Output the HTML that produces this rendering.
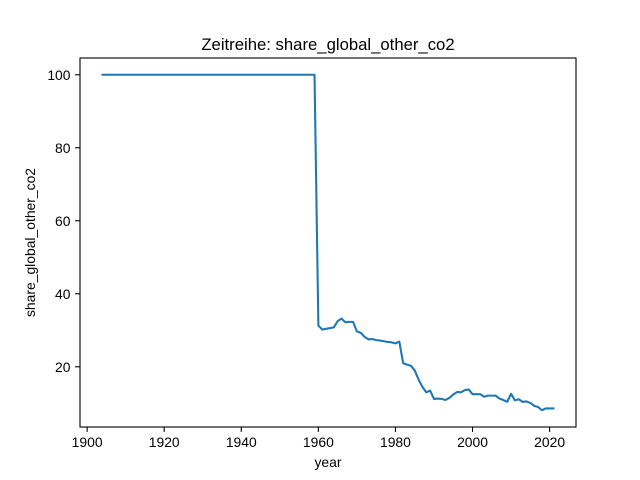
<!DOCTYPE html>
<html><head><meta charset="utf-8"><style>body{margin:0;background:#fff}svg{display:block;font-family:"Liberation Sans","DejaVu Sans",sans-serif}</style></head>
<body>
<svg id="chart" width="640" height="480" xmlns="http://www.w3.org/2000/svg">
<rect width="640" height="480" fill="#fff"/>
<text x="328" y="50" text-anchor="middle" font-size="16.7">Zeitreihe: share_global_other_co2</text>
<text x="328" y="467" text-anchor="middle" font-size="13.9">year</text>
<text transform="translate(35,242.5) rotate(-90)" text-anchor="middle" font-size="13.9">share_global_other_co2</text>
<g id="ticks"></g>
<path id="line" fill="none" stroke="#1f77b4" stroke-width="2.08" stroke-linejoin="round" stroke-linecap="square"/>
<rect x="80" y="58" width="496" height="369" fill="none" stroke="#000" stroke-width="1.1"/>
</svg>
<script>
const years=[];for(let y=1904;y<=2021;y++)years.push(y);
const valuesEarly=new Array(1959-1904+1).fill(100);
const valuesLate=[31.3,30.2,30.4,30.6,30.8,32.5,33.2,32.2,32.3,32.3,29.7,29.3,28.2,27.5,27.6,27.3,27.2,27.0,26.8,26.7,26.4,26.9,21.0,20.6,20.3,19.0,16.5,14.5,13.0,13.5,11.2,11.3,11.2,10.9,11.5,12.4,13.1,13.0,13.6,13.8,12.5,12.5,12.5,11.8,12.1,12.1,12.1,11.3,10.9,10.4,12.6,10.8,11.1,10.4,10.5,10.1,9.3,9.0,8.1,8.6,8.6,8.6];
const values=valuesEarly.concat(valuesLate);
const xTicks=[1900,1920,1940,1960,1980,2000,2020];
const yTicks=[20,40,60,80,100];
const L=80,R=576,T=58,B=427;
const xmin=Math.min(...years),xmax=Math.max(...years),xm=(xmax-xmin)*0.05;
const ymin=Math.min(...values),ymax=Math.max(...values),ym=(ymax-ymin)*0.05;
const x=v=>L+(v-(xmin-xm))/((xmax+xm)-(xmin-xm))*(R-L);
const y=v=>B-(v-(ymin-ym))/((ymax+ym)-(ymin-ym))*(B-T);
const ns="http://www.w3.org/2000/svg";
const g=document.getElementById('ticks');
function mk(t,a){const e=document.createElementNS(ns,t);for(const k in a)e.setAttribute(k,a[k]);return e;}
xTicks.forEach(t=>{const px=x(t);
const l=mk('line',{x1:px,x2:px,y1:B,y2:B+4.9,stroke:'#000','stroke-width':1.1});


g.appendChild(l);
const s=mk('text',{x:px,y:B+20,'text-anchor':'middle','font-size':13.9});s.textContent=t;


g.appendChild(s);});
yTicks.forEach(t=>{const py=y(t);
const l=mk('line',{x1:L-4.9,x2:L,y1:py,y2:py,stroke:'#000','stroke-width':1.1});


g.appendChild(l);
const s=mk('text',{x:L-9.5,y:py+5,'text-anchor':'end','font-size':13.9});s.textContent=t;


g.appendChild(s);});
document.getElementById('line').setAttribute('d',years.map((yr,i)=>(i?'L':'M')+x(yr).toFixed(2)+','+y(values[i]).toFixed(2)).join(''));
</script>
</body></html>
